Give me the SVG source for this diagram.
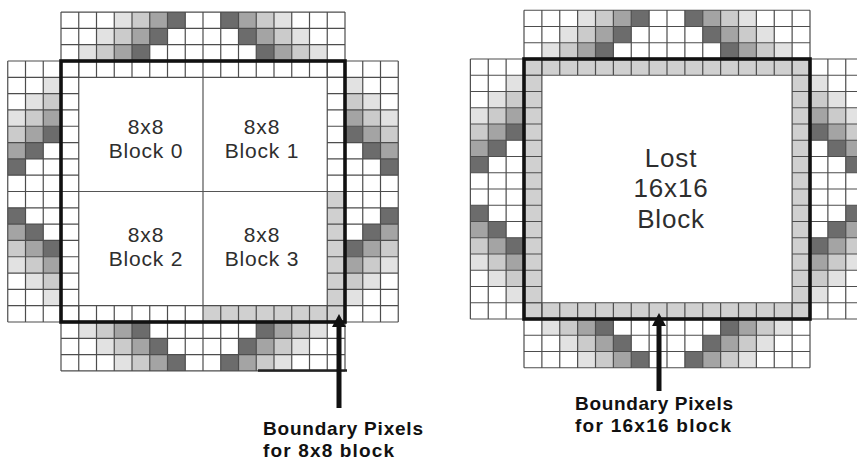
<svg xmlns="http://www.w3.org/2000/svg" xmlns:xlink="http://www.w3.org/1999/xlink" width="857" height="460" viewBox="0 0 857 460">
<style>
.l1{fill:#e2e2e2}.l2{fill:#cbcbcb}.l3{fill:#a4a4a4}.l4{fill:#6c6c6c}
.grid{fill:none;stroke:#4d4d4d;stroke-width:1.2;vector-effect:non-scaling-stroke}
.thin{fill:none;stroke:#555;stroke-width:1.2}
.border{fill:none;stroke:#111;stroke-width:3.6}
.ring{fill:#d0d0d0}
.blk{font-family:"Liberation Sans",Arial,sans-serif;font-size:21px;fill:#2e2e2e;text-anchor:middle;letter-spacing:0.8px}
.lost{font-family:"Liberation Sans",Arial,sans-serif;font-size:26px;fill:#2e2e2e;text-anchor:middle;letter-spacing:0.8px}
.lbl{font-family:"Liberation Sans",Arial,sans-serif;font-size:19px;font-weight:bold;fill:#111}
.arrow{stroke:#111;stroke-width:5;fill:none}
</style>
<defs>
<g id="strip">
<rect class="l1" x="3" y="0" width="1" height="1"/><rect class="l2" x="4" y="0" width="1" height="1"/><rect class="l3" x="5" y="0" width="1" height="1"/><rect class="l4" x="6" y="0" width="1" height="1"/>
<rect class="l4" x="9" y="0" width="1" height="1"/><rect class="l3" x="10" y="0" width="1" height="1"/><rect class="l2" x="11" y="0" width="1" height="1"/><rect class="l1" x="12" y="0" width="1" height="1"/>
<rect class="l1" x="2" y="1" width="1" height="1"/><rect class="l2" x="3" y="1" width="1" height="1"/><rect class="l3" x="4" y="1" width="1" height="1"/><rect class="l4" x="5" y="1" width="1" height="1"/>
<rect class="l4" x="10" y="1" width="1" height="1"/><rect class="l3" x="11" y="1" width="1" height="1"/><rect class="l2" x="12" y="1" width="1" height="1"/><rect class="l1" x="13" y="1" width="1" height="1"/>
<rect class="l1" x="1" y="2" width="1" height="1"/><rect class="l2" x="2" y="2" width="1" height="1"/><rect class="l3" x="3" y="2" width="1" height="1"/><rect class="l4" x="4" y="2" width="1" height="1"/>
<rect class="l4" x="11" y="2" width="1" height="1"/><rect class="l3" x="12" y="2" width="1" height="1"/><rect class="l2" x="13" y="2" width="1" height="1"/><rect class="l1" x="14" y="2" width="1" height="1"/>
<path class="grid" d="M0 0H16M0 1H16M0 2H16M0 3H16M0 0V3M1 0V3M2 0V3M3 0V3M4 0V3M5 0V3M6 0V3M7 0V3M8 0V3M9 0V3M10 0V3M11 0V3M12 0V3M13 0V3M14 0V3M15 0V3M16 0V3"/>
</g>
<g id="ringrow">
<path class="grid" d="M0 1H16M1 0V1M2 0V1M3 0V1M4 0V1M5 0V1M6 0V1M7 0V1M8 0V1M9 0V1M10 0V1M11 0V1M12 0V1M13 0V1M14 0V1M15 0V1"/>
</g>
<marker id="ah" viewBox="0 0 13 14" refX="2" refY="7" markerWidth="13" markerHeight="14" markerUnits="userSpaceOnUse" orient="auto">
<path d="M0,0 L13,7 L0,14 z" fill="#111"/>
</marker>
</defs>

<g id="diagram-8x8">
<g id="left-neighbours">
<use xlink:href="#strip" href="#strip" transform="translate(61,12.0625) scale(17.75,16.3125)"/>
<use xlink:href="#strip" href="#strip" transform="translate(61,370.9375) scale(17.75,-16.3125)"/>
<use xlink:href="#strip" href="#strip" transform="matrix(0,16.3125,17.75,0,7.75,61)"/>
<use xlink:href="#strip" href="#strip" transform="matrix(0,16.3125,-17.75,0,398.25,61)"/>
<line x1="258" y1="370.5" x2="347" y2="370.5" stroke="#222" stroke-width="2.4"/>
</g>
<g id="macroblock-8x8">
<rect class="ring" x="327.25" y="191.5" width="17.75" height="130.5"/>
<rect class="ring" x="203" y="305.6875" width="142" height="16.3125"/>
<use xlink:href="#ringrow" href="#ringrow" transform="translate(61,61) scale(17.75,16.3125)"/>
<use xlink:href="#ringrow" href="#ringrow" transform="translate(61,322) scale(17.75,-16.3125)"/>
<use xlink:href="#ringrow" href="#ringrow" transform="matrix(0,16.3125,17.75,0,61,61)"/>
<use xlink:href="#ringrow" href="#ringrow" transform="matrix(0,16.3125,-17.75,0,345,61)"/>
<path class="thin" d="M203 77.3V305.7M78.75 191.5H327.25"/>
<rect class="border" x="61" y="61" width="284" height="261"/>
</g>
<g id="block0"><text class="blk" x="146" y="134">8x8</text><text class="blk" x="146" y="158">Block 0</text></g>
<g id="block1"><text class="blk" x="262" y="134">8x8</text><text class="blk" x="262" y="158">Block 1</text></g>
<g id="block2"><text class="blk" x="146" y="242">8x8</text><text class="blk" x="146" y="266">Block 2</text></g>
<g id="block3"><text class="blk" x="262" y="242">8x8</text><text class="blk" x="262" y="266">Block 3</text></g>
</g>

<g id="diagram-16x16">
<g id="right-neighbours">
<use xlink:href="#strip" href="#strip" transform="translate(524,10.25) scale(17.875,16.25)"/>
<use xlink:href="#strip" href="#strip" transform="translate(524,367.75) scale(17.875,-16.25)"/>
<use xlink:href="#strip" href="#strip" transform="matrix(0,16.25,17.875,0,470.375,59)"/>
<use xlink:href="#strip" href="#strip" transform="matrix(0,16.25,-17.875,0,863.625,59)"/>
</g>
<g id="macroblock-16x16">
<rect class="ring" x="524" y="59" width="286" height="260"/>
<rect fill="#fff" x="541.875" y="75.25" width="250.25" height="227.5"/>
<use xlink:href="#ringrow" href="#ringrow" transform="translate(524,59) scale(17.875,16.25)"/>
<use xlink:href="#ringrow" href="#ringrow" transform="translate(524,319) scale(17.875,-16.25)"/>
<use xlink:href="#ringrow" href="#ringrow" transform="matrix(0,16.25,17.875,0,524,59)"/>
<use xlink:href="#ringrow" href="#ringrow" transform="matrix(0,16.25,-17.875,0,810,59)"/>
<rect class="border" x="524" y="59" width="286" height="260"/>
</g>
<g id="lost-block"><text class="lost" x="671" y="167">Lost</text><text class="lost" x="671" y="197">16x16</text><text class="lost" x="671" y="228">Block</text></g>
</g>

<g id="connectors">
<line class="arrow" x1="339" y1="408" x2="339" y2="325" marker-end="url(#ah)"/>
<line class="arrow" x1="659" y1="391" x2="659" y2="324" marker-end="url(#ah)"/>
</g>

<g id="label-8x8">
<text class="lbl" x="263" y="435" textLength="160" lengthAdjust="spacing">Boundary Pixels</text>
<text class="lbl" x="263" y="457" textLength="131" lengthAdjust="spacing">for 8x8 block</text>
</g>
<g id="label-16x16">
<text class="lbl" x="575" y="410" textLength="158" lengthAdjust="spacing">Boundary Pixels</text>
<text class="lbl" x="575" y="432" textLength="156" lengthAdjust="spacing">for 16x16 block</text>
</g>
</svg>
